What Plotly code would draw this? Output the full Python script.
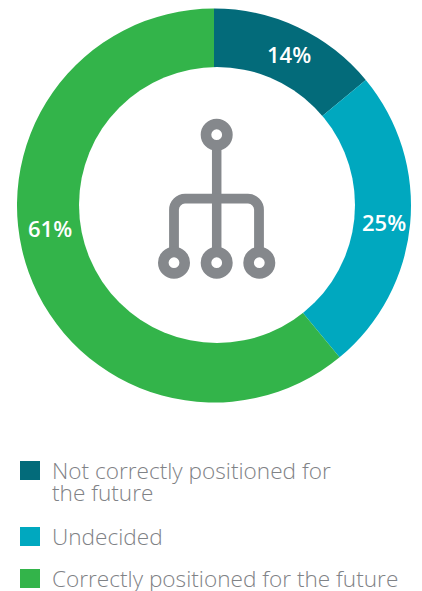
import plotly.graph_objects as go

W, H = 422, 591

# Survey shares
categories = ["Not correctly positioned for the future", "Undecided", "Correctly positioned for the future"]
shares = [14, 25, 61]
colors = ["#036b7a", "#00a8bf", "#33b44a"]
legend_lines = [["Not correctly positioned for", "the future"], ["Undecided"], ["Correctly positioned for the future"]]

GREY = "#85888c"
TEXT_GREY = "#7f8286"


def px(x):
    return x / W


def py(y):
    return 1 - y / H


fig = go.Figure(
    go.Pie(
        labels=categories,
        values=shares,
        marker=dict(colors=colors, line=dict(width=0)),
        hole=0.6,
        sort=False,
        direction="clockwise",
        rotation=0,
        textinfo="none",
        hoverinfo="label+percent",
        domain=dict(x=[px(17), px(411)], y=[py(403), py(8)]),
    )
)

shapes = []
annotations = []

# The opening of the ring sits slightly right of the pie centre
shapes.append(dict(type="circle", xref="paper", yref="paper",
                   x0=px(79), x1=px(355), y0=py(67), y1=py(343),
                   fillcolor="white", line=dict(width=0)))


def ring(cx, cy, r_mid=10.7, stroke=10.6):
    # Stroked circle with a white centre, used for the nodes of the tree icon
    shapes.append(dict(type="circle", xref="paper", yref="paper",
                       x0=px(cx - r_mid), x1=px(cx + r_mid),
                       y0=py(cy - r_mid), y1=py(cy + r_mid),
                       fillcolor="white", line=dict(color=GREY, width=stroke)))


# Tree icon in the hole of the donut
shapes.append(dict(type="line", xref="paper", yref="paper",
                   x0=px(216.7), y0=py(135), x1=px(216.7), y1=py(262.5),
                   line=dict(color=GREY, width=9.5)))
bar_y, left, right, corner = 198.7, 174, 259, 11
k = corner * 0.45
shapes.append(dict(
    type="path", xref="paper", yref="paper",
    path=(f"M {px(left)} {py(262.5)} L {px(left)} {py(bar_y + corner)} "
          f"C {px(left)} {py(bar_y + k)} {px(left + k)} {py(bar_y)} {px(left + corner)} {py(bar_y)} "
          f"L {px(right - corner)} {py(bar_y)} "
          f"C {px(right - k)} {py(bar_y)} {px(right)} {py(bar_y + k)} {px(right)} {py(bar_y + corner)} "
          f"L {px(right)} {py(262.5)}"),
    line=dict(color=GREY, width=9.8), fillcolor="rgba(0,0,0,0)"))
ring(216.7, 134.7)
for node_x in (174, 216.7, 259.3):
    ring(node_x, 262.7)

# Value labels on the ring
for value, (lx, ly) in zip(shares, [(289, 54), (384, 222), (49.5, 228)]):
    annotations.append(dict(text=f"{value}%", x=px(lx), y=py(ly), xref="paper", yref="paper",
                            showarrow=False, xanchor="center", yanchor="middle",
                            font=dict(family="Open Sans", size=22, color="white", weight=600)))

# Hand-placed legend so the wrapped entry keeps its tight line spacing
legend_rows = [(461, [470.5, 492.5]), (527, [536]), (569, [578])]
for color, lines, (swatch_y, text_ys) in zip(colors, legend_lines, legend_rows):
    shapes.append(dict(type="rect", xref="paper", yref="paper",
                       x0=px(20), x1=px(40), y0=py(swatch_y), y1=py(swatch_y + 19),
                       fillcolor=color, line=dict(width=0)))
    for line, ty in zip(lines, text_ys):
        annotations.append(dict(text=line, x=px(49.5), y=py(ty), xref="paper", yref="paper",
                                showarrow=False, xanchor="left", yanchor="middle",
                                font=dict(family="Open Sans", size=22.6, color=TEXT_GREY, weight=300)))

fig.update_layout(
    width=W, height=H,
    margin=dict(l=0, r=0, t=0, b=0),
    paper_bgcolor="white",
    showlegend=False,
    shapes=shapes,
    annotations=annotations,
)

fig.write_html("out.html", config=dict(displayModeBar=False))
